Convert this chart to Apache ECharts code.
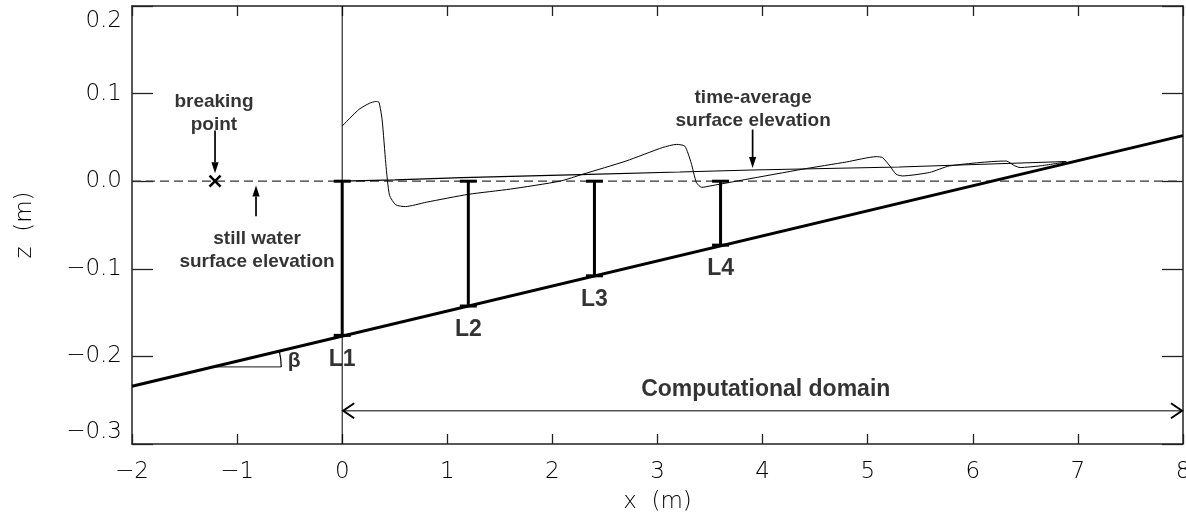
<!DOCTYPE html>
<html><head><meta charset="utf-8">
<script src="https://cdn.jsdelivr.net/npm/echarts@6/dist/echarts.min.js"></script>
<style>html,body{margin:0;padding:0;background:#fff}#c{width:1186px;height:523px}</style>
</head><body><div id="c"></div>
<script>
// ---------- data ----------
const xRange = [-2, 8];
const zRange = [-0.3, 0.2];
const bedX = [-2, 8];
const bedZ = [-0.234, 0.052];
const waveX = [0, 0.16, 0.26, 0.32, 0.35, 0.38, 0.415, 0.45, 0.51, 0.6, 0.8, 1.2, 1.6, 2.07, 2.29, 2.7, 3.05, 3.18, 3.26, 3.32, 3.37, 3.42, 3.52, 3.84, 4.38, 4.8, 5.08, 5.14, 5.21, 5.27, 5.33, 5.59, 5.78, 6.29, 6.32, 6.40, 6.45, 6.64, 6.89];
const waveZ = [0.063, 0.082, 0.089, 0.091, 0.090, 0.070, 0.020, -0.016, -0.027, -0.029, -0.024, -0.015, -0.009, 0.0, 0.008, 0.023, 0.0385, 0.042, 0.040, 0.021, -0.0015, -0.007, -0.005, 0.002, 0.0137, 0.022, 0.028, 0.027, 0.0175, 0.008, 0.006, 0.010, 0.0175, 0.023, 0.023, 0.0175, 0.0156, 0.0175, 0.022];
const avgX = [0, 0.5, 1.14, 2.26, 3.21, 3.9, 5.3, 6.89];
const avgZ = [0, 0.0015, 0.004, 0.0075, 0.0105, 0.0128, 0.0162, 0.0225];
const gaugeNames = ['L1', 'L2', 'L3', 'L4'];
const gaugeX = [0, 1.2, 2.4, 3.6];
const gaugeTop = [0, 0, 0, 0];
const gaugeBottom = [-0.176, -0.1425, -0.108, -0.073];
const breakingPoint = [-1.21, 0];
const domainX = [0, 8];
const domainZ = -0.262;
const angleCenter = [-1.2, -0.212];
const angleEndX = -0.58;
// annotation texts [text, x, z]
const notes = [
  ['breaking\npoint', -1.22, 0.077],
  ['still water\nsurface elevation', -0.81, -0.079],
  ['time-average\nsurface elevation', 3.91, 0.082]
];
const bigNotes = [['Computational domain', 4.03, -0.238]];
const betaNote = [['β', -0.457, -0.206]];
// annotation arrows [x1, z1, x2(tip), z2(tip)]
const arrows = [
  [-1.21, 0.058, -1.21, 0.009],
  [-0.82, -0.040, -0.82, -0.005],
  [3.905, 0.059, 3.905, 0.015]
];

// ---------- chart ----------
const tickFont = 'DejaVu Sans';
const labFont = 'Liberation Sans';
const fmtNum = (v, d) => {
  if (Math.abs(v) < 1e-9) v = 0;
  const s = d ? v.toFixed(d) : String(Math.round(v));
  return s.replace('-', '\u2212');
};
const frame = { show: true, onZero: false, lineStyle: { color: '#222', width: 1.5 } };
function xAx(pos, labels) {
  return {
    type: 'value', position: pos, min: xRange[0], max: xRange[1], interval: 1,
    axisLine: frame, splitLine: { show: false },
    axisTick: { show: true, inside: true, length: 10, lineStyle: { color: '#222', width: 1.3 } },
    axisLabel: { show: labels, fontSize: 23, fontFamily: tickFont, fontWeight: 200, color: '#000', margin: 17,
      formatter: v => fmtNum(v, 0), showMinLabel: true, showMaxLabel: true },
    name: labels ? 'x  (m)' : '', nameLocation: 'middle', nameGap: 47,
    nameTextStyle: { fontSize: 23, fontFamily: tickFont, fontWeight: 200, color: '#000' }
  };
}
function yAx(pos, labels) {
  return {
    type: 'value', position: pos, min: zRange[0], max: zRange[1], interval: 0.1,
    axisLine: frame, splitLine: { show: false },
    axisTick: { show: true, inside: true, length: 21, lineStyle: { color: '#222', width: 1.3 } },
    axisLabel: { show: labels, fontSize: 23, fontFamily: tickFont, fontWeight: 200, color: '#000', margin: 10,
      padding: [4, 0, 0, 0],
      formatter: v => fmtNum(v, 1), showMinLabel: true, showMaxLabel: true,
      verticalAlignMaxLabel: 'top', verticalAlignMinLabel: 'bottom' },
    name: labels ? 'z  (m)' : '', nameLocation: 'middle', nameGap: 95, nameRotate: 90,
    nameTextStyle: { fontSize: 23, fontFamily: tickFont, fontWeight: 200, color: '#000' }
  };
}
const zip = (a, b) => a.map((v, i) => [v, b[i]]);

function gaugeItem(params, api) {
  const t = api.coord([api.value(0), api.value(1)]);
  const b = api.coord([api.value(0), api.value(2)]);
  const st = { stroke: '#000', lineWidth: 3 };
  const w = 8.5;
  return { type: 'group', children: [
    { type: 'line', shape: { x1: t[0], y1: t[1], x2: b[0], y2: b[1] }, style: st },
    { type: 'line', shape: { x1: t[0] - w, y1: t[1], x2: t[0] + w, y2: t[1] }, style: st },
    { type: 'line', shape: { x1: b[0] - w, y1: b[1], x2: b[0] + w, y2: b[1] }, style: st }
  ]};
}
function arrowItem(params, api) {
  const p1 = api.coord([api.value(0), api.value(1)]);
  const p2 = api.coord([api.value(2), api.value(3)]);
  const dx = p2[0] - p1[0], dy = p2[1] - p1[1];
  const L = Math.hypot(dx, dy), ux = dx / L, uy = dy / L;
  const hl = 11, hw = 3.6;
  const bs = [p2[0] - ux * hl, p2[1] - uy * hl];
  return { type: 'group', children: [
    { type: 'line', shape: { x1: p1[0], y1: p1[1], x2: bs[0], y2: bs[1] }, style: { stroke: '#000', lineWidth: 1.7 } },
    { type: 'polygon', shape: { points: [p2, [bs[0] - uy * hw, bs[1] + ux * hw], [bs[0] + uy * hw, bs[1] - ux * hw]] }, style: { fill: '#000' } }
  ]};
}
function domainItem(params, api) {
  const a = api.coord([api.value(0), api.value(2)]);
  const b = api.coord([api.value(1), api.value(2)]);
  const hl = 12, hh = 7.5;
  const cs = { stroke: '#000', lineWidth: 2, fill: null };
  return { type: 'group', children: [
    { type: 'line', shape: { x1: a[0], y1: a[1], x2: b[0] - 1, y2: b[1] }, style: { stroke: '#555', lineWidth: 1.6 } },
    { type: 'polyline', shape: { points: [[a[0] + hl, a[1] - hh], [a[0] + 1, a[1]], [a[0] + hl, a[1] + hh]] }, style: cs },
    { type: 'polyline', shape: { points: [[b[0] - hl, b[1] - hh], [b[0] - 1, b[1]], [b[0] - hl, b[1] + hh]] }, style: cs }
  ]};
}
function angleItem(params, api) {
  const c = api.coord([api.value(0), api.value(1)]);
  const e = api.coord([api.value(2), api.value(1)]);
  const b0 = api.coord([bedX[0], bedZ[0]]);
  const b1 = api.coord([bedX[1], bedZ[1]]);
  const th = Math.atan2(b0[1] - b1[1], b1[0] - b0[0]);
  const r = e[0] - c[0];
  return { type: 'group', children: [
    { type: 'line', shape: { x1: c[0], y1: c[1], x2: e[0], y2: e[1] }, style: { stroke: '#444', lineWidth: 1.2 } },
    { type: 'arc', shape: { cx: c[0], cy: c[1], r: r, startAngle: -th, endAngle: 0, clockwise: true }, style: { stroke: '#000', lineWidth: 1.2, fill: null } }
  ]};
}
function crossItem(params, api) {
  const p = api.coord([api.value(0), api.value(1)]);
  const s = 5.5, st = { stroke: '#000', lineWidth: 2.6 };
  return { type: 'group', children: [
    { type: 'line', shape: { x1: p[0] - s, y1: p[1] - s, x2: p[0] + s, y2: p[1] + s }, style: st },
    { type: 'line', shape: { x1: p[0] - s, y1: p[1] + s, x2: p[0] + s, y2: p[1] - s }, style: st }
  ]};
}
function textSeries(list, size, lh) {
  return {
    type: 'scatter', symbolSize: 1, itemStyle: { color: 'transparent' }, silent: true, z: 10,
    data: list.map(n => ({ name: n[0], value: [n[1], n[2]] })),
    label: { show: true, position: 'inside', formatter: p => p.name, fontSize: size, lineHeight: lh,
      fontFamily: labFont, fontWeight: 'bold', color: '#000' }
  };
}

const chart = echarts.init(document.getElementById('c'), null, { renderer: 'canvas' });
chart.setOption({
  animation: false,
  backgroundColor: '#fff',
  grid: { left: 132, right: 3, top: 6, bottom: 79, containLabel: false, outerBoundsMode: 'none' },
  xAxis: [xAx('bottom', true), xAx('top', false)],
  yAxis: [yAx('left', true), yAx('right', false)],
  series: [
    { type: 'line', data: zip(xRange, [0, 0]), symbol: 'none', lineStyle: { color: '#333', width: 1.3, type: [9, 5] }, silent: true },
    { type: 'line', data: zip([0, 0], zRange), symbol: 'none', lineStyle: { color: '#000', width: 1 }, silent: true },
    { type: 'line', data: zip(bedX, bedZ), symbol: 'none', lineStyle: { color: '#000', width: 3 }, silent: true, z: 5 },
    { type: 'line', data: zip(waveX, waveZ), symbol: 'none', smooth: 0.2, lineStyle: { color: '#000', width: 1 }, silent: true },
    { type: 'line', data: zip(avgX, avgZ), symbol: 'none', lineStyle: { color: '#000', width: 1.2 }, silent: true },
    { type: 'custom', renderItem: gaugeItem, data: gaugeX.map((x, i) => [x, gaugeTop[i], gaugeBottom[i]]), silent: true, z: 6 },
    {
      type: 'scatter', symbolSize: 1, itemStyle: { color: 'transparent' }, silent: true, z: 10,
      data: gaugeX.map((x, i) => ({ name: gaugeNames[i], value: [x, gaugeBottom[i]] })),
      label: { show: true, position: 'bottom', distance: 12, formatter: p => p.name, fontSize: 23,
        fontFamily: labFont, fontWeight: 'bold', color: '#000' }
    },
    { type: 'custom', renderItem: arrowItem, data: arrows, silent: true },
    { type: 'custom', renderItem: domainItem, data: [[domainX[0], domainX[1], domainZ]], silent: true },
    { type: 'custom', renderItem: angleItem, data: [[angleCenter[0], angleCenter[1], angleEndX]], silent: true },
    { type: 'custom', renderItem: crossItem, data: [breakingPoint], silent: true, z: 7 },
    textSeries(notes, 19, 23),
    textSeries(bigNotes, 23, 26),
    textSeries(betaNote, 21, 24)
  ]
});
</script></body></html>
